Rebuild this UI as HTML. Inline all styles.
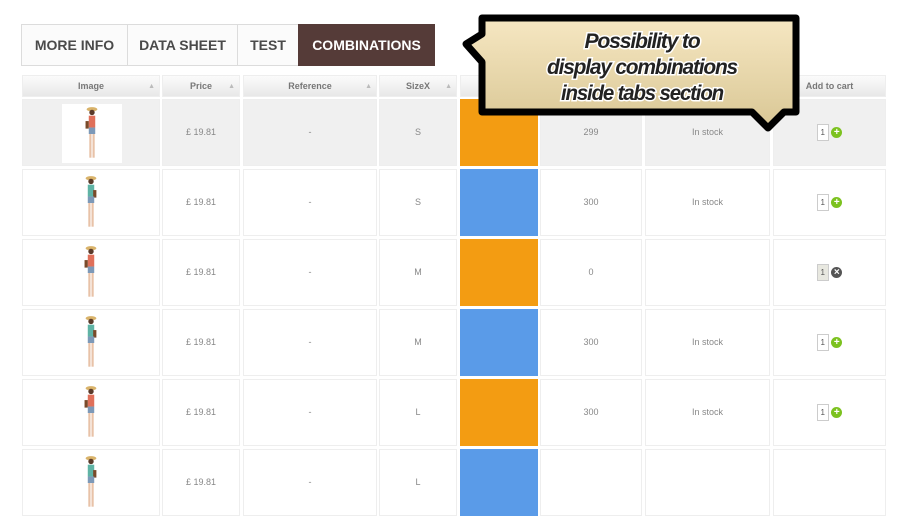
<!DOCTYPE html>
<html><head><meta charset="utf-8"><style>
body{margin:0;width:900px;height:459px;overflow:hidden;background:#fff;font-family:"Liberation Sans",sans-serif;position:relative}
.a{position:absolute;box-sizing:border-box}
.tab{top:24px;height:42px;border:1px solid #dcdcdc;background:#fbfbfb;color:#4a4a4a;font-weight:bold;font-size:14px;line-height:40px;text-align:center}
.h{top:75px;height:22px;background:linear-gradient(#fbfbfb,#e8e8e8);border:1px solid #eee;font-size:9px;font-weight:bold;color:#777;text-align:center;line-height:21px}
.c{height:67px;border:1px solid #eee;font-size:9px;color:#888;text-align:center;line-height:65px}
.s{position:absolute;right:4px;top:0;color:#bbb;font-size:7px}
.q{display:inline-block;width:12px;height:17px;border:1px solid #ccc;line-height:15px;font-size:8px;color:#555;vertical-align:middle;box-sizing:border-box}
.p{display:inline-block;width:11px;height:11px;border-radius:50%;color:#fff;font-size:10px;line-height:11px;font-weight:bold;vertical-align:middle}
</style></head><body>
<div class="a tab" style="left:21px;width:107px">MORE INFO</div>
<div class="a tab" style="left:127px;width:111px">DATA SHEET</div>
<div class="a tab" style="left:237px;width:62px">TEST</div>
<div class="a tab" style="left:298px;width:137px;background:#553b38;color:#fff;border-color:#553b38">COMBINATIONS</div>
<div id="t"></div>
<svg class="a" style="left:440px;top:10px" width="380" height="130" viewBox="440 10 380 130">
<defs><linearGradient id="g" x1="0" y1="0" x2="0" y2="1"><stop offset="0" stop-color="#f6e7c2"/><stop offset="1" stop-color="#d9c795"/></linearGradient></defs>
<path d="M482,18 L796,18 L796,112 L784,112 L768,128 L752,112 L482,112 L482,62 L466,44 L482,34 Z" fill="url(#g)" stroke="#000" stroke-width="7" stroke-linejoin="round"/>
<g font-family="Liberation Sans, sans-serif" font-style="italic" font-weight="bold" font-size="21" text-anchor="middle" fill="#222" stroke="#fff" stroke-width="3" paint-order="stroke" letter-spacing="-1.2">
<text x="642" y="48" textLength="115" lengthAdjust="spacingAndGlyphs">Possibility to</text>
<text x="642" y="74" textLength="190" lengthAdjust="spacingAndGlyphs">display combinations</text>
<text x="642" y="100" textLength="162" lengthAdjust="spacingAndGlyphs">inside tabs section</text>
</g></svg>
<script>
var cols=[[22,138,'Image'],[162,78,'Price'],[243,134,'Reference'],[379,78,'SizeX'],[460,78,''],[540,102,''],[645,125,''],[773,113,'Add to cart']];
var rows=[['S','#f39c12','299','In stock',1],['S','#5a9be8','300','In stock',1],['M','#f39c12','0','',0],['M','#5a9be8','300','In stock',1],['L','#f39c12','300','In stock',1],['L','#5a9be8','','',1]];
var h='';
cols.forEach(function(c,i){h+='<div class="a h" style="left:'+c[0]+'px;width:'+c[1]+'px">'+c[2]+(i<4?'<span class="s">&#9650;<br></span>':'')+'</div>';});
var fig=function(b){return '<svg width="16" height="56" viewBox="0 0 14 52" style="vertical-align:middle"><ellipse cx="7" cy="3" rx="5" ry="2" fill="#d9b36a"/><circle cx="7" cy="6" r="2.5" fill="#5a3a2a"/><rect x="4" y="9" width="6" height="11" fill="'+(b?'#5fb3a5':'#e0705a')+'"/><rect x="'+(b?9:1)+'" y="14" width="3" height="7" fill="#7a4a2a"/><rect x="4" y="20" width="6" height="6" fill="#7d99b8"/><rect x="4.5" y="26" width="2" height="22" fill="#e8c2a8"/><rect x="7.5" y="26" width="2" height="22" fill="#e8c2a8"/></svg>';};
rows.forEach(function(r,j){var y=99+70*j;var bg=j==0?'#f0f0f0':'#fff';
var v=['',"£ 19.81",'-',r[0],'',r[2],r[3],''];
cols.forEach(function(c,i){var st='left:'+c[0]+'px;top:'+y+'px;width:'+c[1]+'px;background:'+bg;var inner=v[i];
if(i==4){st+=';background:'+r[1]+';border-color:'+r[1];}
if(i==0){inner=j==0?'<div style="position:absolute;left:39px;top:4px;width:60px;height:59px;background:#fff;line-height:59px">'+fig(0)+'</div>':fig(j%2);inner='<div style="line-height:65px">'+inner+'</div>';}
if(i==7&&r[2]!==''){inner='<span class="q" style="background:'+(r[4]?'#fff':'#e8e8e0')+'">1</span> <span class="p" style="background:'+(r[4]?'#7cc21f':'#555')+'">'+(r[4]?'+':'×')+'</span>';}
h+='<div class="a c" style="'+st+'">'+inner+'</div>';});});
document.getElementById('t').innerHTML=h;
</script>
</body></html>
